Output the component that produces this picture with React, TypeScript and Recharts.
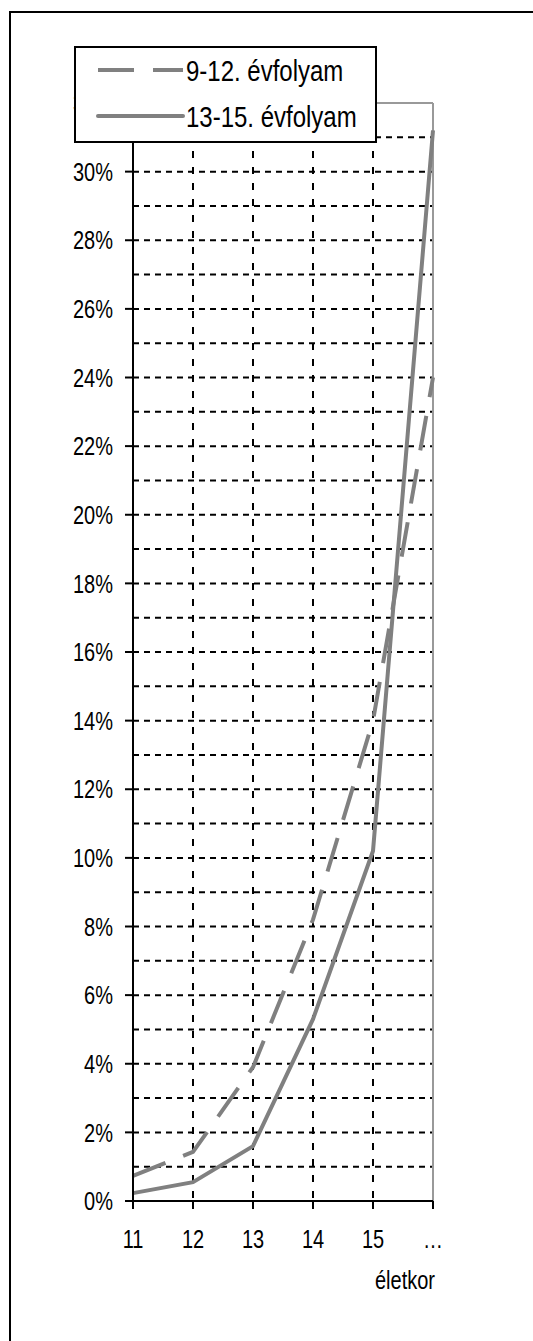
import React from 'react';
import {
  LineChart,
  Line,
  XAxis,
  YAxis,
  CartesianGrid,
  Legend,
  Label,
  ReferenceLine,
} from 'recharts';

const AGES = ['11', '12', '13', '14', '15', '…'];
const GRADE_9_12 = [0.0073, 0.0143, 0.039, 0.082, 0.14, 0.24];
const GRADE_13_15 = [0.0023, 0.0055, 0.016, 0.053, 0.102, 0.312];
const Y_TICKS = [0, 0.02, 0.04, 0.06, 0.08, 0.1, 0.12, 0.14, 0.16, 0.18, 0.2, 0.22, 0.24, 0.26, 0.28, 0.3, 0.32];
const GRID_VALUES = Array.from({ length: 33 }, (_, i) => i / 100);

const SERIES_LABEL: Record<string, string> = {
  g912: '9-12. évfolyam',
  g1315: '13-15. évfolyam',
};

const data = AGES.map((age, i) => ({ age, g912: GRADE_9_12[i], g1315: GRADE_13_15[i] }));

const FONT = '"Liberation Sans", Arial, sans-serif';
const LINE_GRAY = '#808080';
// az eredeti kép függőlegesen nyújtott, a feliratok is magasabbak
const STRETCH = 1.3;

function StretchText({ x, y, anchor, size, children }: any) {
  return (
    <g transform={`translate(${x},${y}) scale(1,${STRETCH})`}>
      <text x={0} y={0} dy="0.355em" textAnchor={anchor} fontSize={size} fontFamily={FONT} fill="#000">
        {children}
      </text>
    </g>
  );
}

const YTick = ({ x, y, payload }: any) => (
  <StretchText x={x} y={y} anchor="end" size={20}>
    {`${Math.round(payload.value * 100)}%`}
  </StretchText>
);

const XTick = ({ x, y, payload }: any) => (
  <StretchText x={x} y={y + 10} anchor="middle" size={20}>
    {payload.value}
  </StretchText>
);

// keretes jelmagyarázat, ahogy az eredeti ábrán
function LegendBox() {
  return (
    <div style={{ width: 303, height: 97, boxSizing: 'border-box', border: '2px solid #000', background: '#fff' }}>
      <svg width={299} height={93} style={{ display: 'block' }}>
        <line x1={22} x2={107} y1={22} y2={22} stroke={LINE_GRAY} strokeWidth={4} strokeDasharray="36 19" />
        <g transform={`translate(110,23) scale(1,1.2)`}>
          <text x={0} y={0} dy="0.355em" fontSize={24} fontFamily={FONT} fill="#000">
            {SERIES_LABEL.g912}
          </text>
        </g>
        <line x1={22} x2={107} y1={68} y2={68} stroke={LINE_GRAY} strokeWidth={4} strokeLinecap="round" />
        <g transform={`translate(110,69) scale(1,1.2)`}>
          <text x={0} y={0} dy="0.355em" fontSize={24} fontFamily={FONT} fill="#000">
            {SERIES_LABEL.g1315}
          </text>
        </g>
      </svg>
    </div>
  );
}

export default function App() {
  return (
    <div style={{ position: 'absolute', left: 0, top: 0, width: 533, height: 1341, background: '#fff', overflow: 'hidden' }}>
      <div
        style={{
          position: 'absolute',
          left: 9,
          top: 11,
          width: 540,
          height: 1360,
          borderTop: '2px solid #000',
          borderLeft: '2px solid #000',
        }}
      />
      <LineChart
        width={533}
        height={1341}
        data={data}
        margin={{ top: 103, right: 100, left: 73, bottom: 52 }}
        style={{ position: 'absolute', left: 0, top: 0, fontFamily: FONT }}
      >
        <ReferenceLine y={0.32} stroke="#999" strokeWidth={2} />
        <ReferenceLine x="…" stroke="#999" strokeWidth={2} />
        <CartesianGrid
          vertical={false}
          horizontalValues={GRID_VALUES}
          stroke="#000"
          strokeWidth={2}
          strokeDasharray="6 5"
        />
        <CartesianGrid horizontal={false} stroke="#000" strokeWidth={2} strokeDasharray="7 9" />
        <XAxis
          dataKey="age"
          height={88}
          axisLine={{ stroke: '#000', strokeWidth: 2 }}
          tickLine={{ stroke: '#000', strokeWidth: 2 }}
          tickSize={8}
          tickMargin={20}
          tick={<XTick />}
          interval={0}
        >
          <Label
            content={({ viewBox }: any) => (
              <StretchText x={viewBox.x + viewBox.width + 2} y={viewBox.y + 79} anchor="end" size={20}>
                életkor
              </StretchText>
            )}
          />
        </XAxis>
        <YAxis
          width={60}
          domain={[0, 0.32]}
          ticks={Y_TICKS}
          interval={0}
          axisLine={{ stroke: '#000', strokeWidth: 2 }}
          tickLine={{ stroke: '#000', strokeWidth: 2 }}
          tickSize={8}
          tickMargin={12}
          tick={<YTick />}
        />
        <Legend
          layout="horizontal"
          verticalAlign="middle"
          align="center"
          content={() => <LegendBox />}
          wrapperStyle={{ position: 'absolute', left: 74, top: 46, width: 303, height: 97 }}
        />
        <Line
          dataKey="g912"
          name={SERIES_LABEL.g912}
          stroke={LINE_GRAY}
          strokeWidth={4}
          strokeDasharray="35 19"
          dot={false}
          isAnimationActive={false}
        />
        <Line
          dataKey="g1315"
          name={SERIES_LABEL.g1315}
          stroke={LINE_GRAY}
          strokeWidth={4}
          dot={false}
          isAnimationActive={false}
        />
      </LineChart>
    </div>
  );
}
